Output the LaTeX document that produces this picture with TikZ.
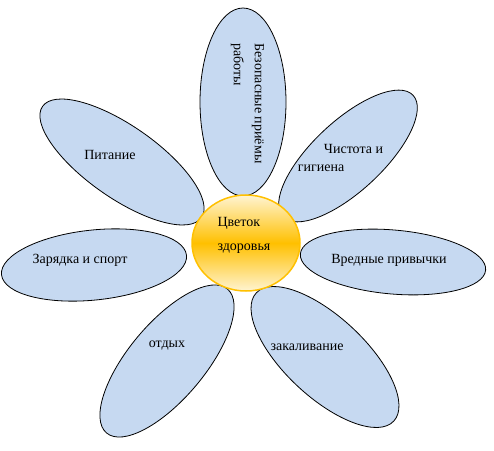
\documentclass[tikz,border=0pt]{standalone}
\usepackage{fontspec}
\setmainfont{Liberation Serif}
\definecolor{petalblue}{RGB}{198,217,241}
\definecolor{sunorange}{RGB}{255,192,0}
\definecolor{suncream}{RGB}{255,244,210}
\begin{document}
\begin{tikzpicture}[x=1pt,y=1pt,
    petal/.style={fill=petalblue, draw=black, line width=0.8pt},
    word/.style={font=\fontsize{14}{18}\selectfont, inner sep=0pt, align=left}]
    \useasboundingbox (0,0) rectangle (494,450);

    \draw[petal] (243,348) ellipse (43 and 94);
    \draw[petal, rotate around={43:(348,294)}] (348,294) ellipse (89 and 35);
    \draw[petal, rotate around={-5:(393,188)}] (393,188) ellipse (93 and 32);
    \draw[petal, rotate around={-43:(325,93)}] (325,93) ellipse (94 and 40);
    \draw[petal, rotate around={50:(167,89)}] (167,89) ellipse (94 and 38);
    \draw[petal, rotate around={6:(94,185)}] (94,185) ellipse (93 and 35);
    \draw[petal, rotate around={-35:(122,288)}] (122,288) ellipse (97 and 36);

    \shade[top color=suncream, bottom color=suncream, middle color=sunorange]
        (246,207) ellipse (54 and 48);
    \draw[sunorange, line width=1.5pt] (246,207) ellipse (54 and 48);

    \node[word] (pitanie) at (110,295) {Питание};
    \node[word] (zaryadka) at (80,190) {Зарядка и спорт};
    \node[word] (otdyh) at (167,104) {отдых};
    \node[word] (zakal) at (307,103) {закаливание};
    \node[word] (vred) at (389,190) {Вредные привычки};
    \node[word] (chistota) at (340.5,292) {\hspace*{26pt}Чистота и\\гигиена};
    \node[word, rotate=-90, font=\fontsize{14}{21}\selectfont] (bezop) at (247.5,346.5)
        {Безопасные приёмы\\работы};
    \node[word, font=\fontsize{14}{24}\selectfont] (cvetok) at (244,215) {Цветок\\здоровья};
\end{tikzpicture}
\end{document}
